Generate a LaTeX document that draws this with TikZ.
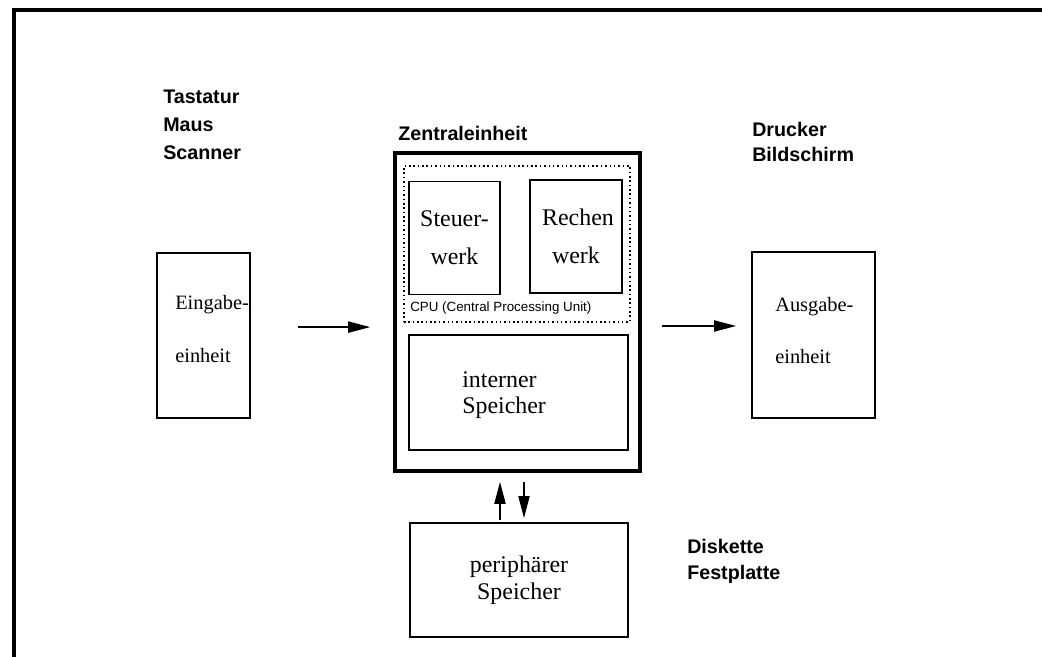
\documentclass[tikz,border=0pt]{standalone}
\usepackage{fontspec}
\setmainfont{Liberation Serif}
\setsansfont{Liberation Sans}
\usepackage{tikz}
\usetikzlibrary{positioning, calc, arrows.meta}

\begin{document}
\begin{tikzpicture}[x=0.025cm, y=-0.025cm,
    box/.style={draw=black, line width=1.3pt, inner sep=0pt, align=center, font=\fontsize{17}{27}\selectfont},
    mainbox/.style={box, line width=2.6pt},
    cpubox/.style={draw=black, line width=1.2pt, dash pattern=on 1.1pt off 2pt, inner sep=0pt},
    boxtext/.style={anchor=west, align=left, inner sep=0pt},
    devtext/.style={anchor=west, align=left, inner sep=0pt, font=\sffamily\bfseries\fontsize{14}{18}\selectfont},
    arrow/.style={-{Triangle[length=0.55cm, width=0.28cm]}, line width=1pt}
]
    \useasboundingbox (0,0) rectangle (1042,657);
    \fill[white] (0,0) rectangle (1042,657);
    % outer frame (only top and left edge visible)
    \draw[line width=2.2pt] (14,657) -- (14,10) -- (1042,10);

    % boxes
    \node[box, minimum width=2.325cm, minimum height=4.125cm] (eingabe) at (203.5,335.5) {};
    \node[mainbox, minimum width=6.125cm, minimum height=7.95cm] (zentral) at (517.5,312) {};
    \node[cpubox, minimum width=5.65cm, minimum height=3.9cm] (cpu) at (517,244) {};
    \node[box, minimum width=2.275cm, minimum height=2.825cm] (steuer) at (454.5,238) {Steuer-\\werk};
    \node[box, minimum width=2.3cm, minimum height=2.825cm] (rechen) at (576,236.5) {\hspace*{0.1cm}Rechen\\werk};
    \node[box, minimum width=5.475cm, minimum height=2.875cm] (intern) at (518.5,392.5) {};
    \node[box, minimum width=3.075cm, minimum height=4.15cm] (ausgabe) at (813.5,335) {};
    \node[box, minimum width=5.45cm, minimum height=2.85cm, font=\fontsize{17}{19}\selectfont] (peripher) at (519,580) {periphärer\\Speicher};

    % texts inside the boxes
    \node[boxtext, font=\fontsize{14.5}{38}\selectfont] (eingabetxt) at (175,329) {Eingabe-\\einheit};
    \node[boxtext, font=\fontsize{14.5}{37}\selectfont] (ausgabetxt) at (775,331) {Ausgabe-\\einheit};
    \node[boxtext, font=\fontsize{17}{18}\selectfont] (interntxt) at (462,395) {interner\\Speicher};
    \node[boxtext, font=\sffamily\fontsize{9.5}{11}\selectfont] (cputxt) at (410,308) {CPU (Central Processing Unit)};

    % device labels
    \node[devtext, font=\sffamily\bfseries\fontsize{14}{19.8}\selectfont] (eingabegeraete) at (163,125) {Tastatur\\Maus\\Scanner};
    \node[devtext] (zentraltxt) at (398,133) {Zentraleinheit};
    \node[devtext] (ausgabegeraete) at (752,142) {Drucker\\Bildschirm};
    \node[devtext, font=\sffamily\bfseries\fontsize{14}{18.4}\selectfont] (speichergeraete) at (687,561) {Diskette\\Festplatte};

    % connectors
    \draw[arrow, shorten <=1.175cm, shorten >=0.575cm] ([yshift=0.21cm]eingabe.east) -- ([yshift=0.21cm]eingabe.east -| zentral.west);
    \draw[arrow, shorten <=0.5cm, shorten >=0.375cm] ([yshift=0.225cm]ausgabe.west -| zentral.east) -- ([yshift=0.225cm]ausgabe.west);
    \draw[arrow, shorten <=0.05cm, shorten >=0.225cm] ([xshift=-0.475cm]peripher.north) -- ([xshift=-0.475cm]peripher.north |- zentral.south);
    \draw[arrow, shorten <=0.225cm, shorten >=0.1cm] ([xshift=0.125cm]peripher.north |- zentral.south) -- ([xshift=0.125cm]peripher.north);

\end{tikzpicture}
\end{document}
